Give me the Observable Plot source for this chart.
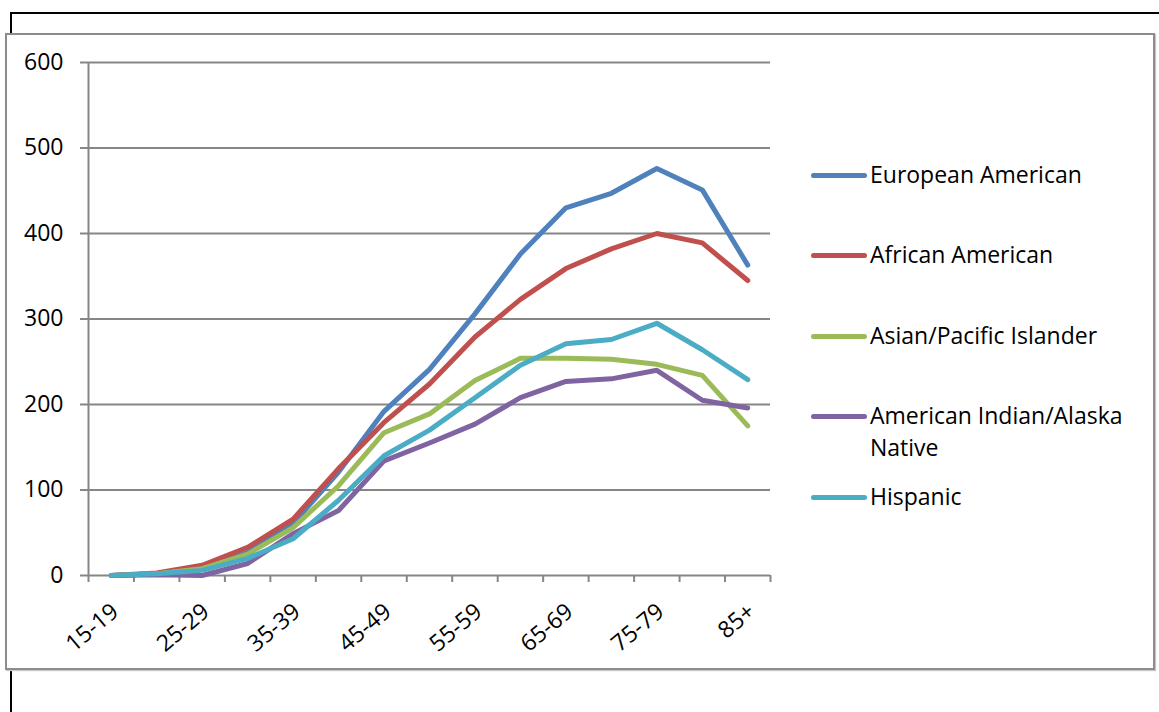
<!DOCTYPE html>
<html>
<head>
<meta charset="utf-8">
<script src="https://cdn.jsdelivr.net/npm/d3@7"></script>
<script src="https://cdn.jsdelivr.net/npm/@observablehq/plot@0.6"></script>
<style>
  html, body { margin: 0; padding: 0; background: #fff; }
  #page { position: relative; width: 1159px; height: 712px; overflow: hidden; font-family: "Open Sans", sans-serif; }
  #frame { position: absolute; left: 10px; top: 12px; width: 1300px; height: 900px; border-top: 2px solid #000; border-left: 2px solid #000; }
  #box { position: absolute; left: 5px; top: 33px; width: 1146px; height: 633px; background: #fff; border: 2px solid #8c8c8c; box-shadow: 1px 1px 1px #c8c8c8; }
  #chart { position: absolute; left: 0; top: 0; }
  .leg { position: absolute; left: 811px; font-size: 23px; color: #000; }
  .leg .sw { position: absolute; left: 0; width: 56px; height: 5px; border-radius: 3px; }
  .leg .tx { position: absolute; left: 59px; line-height: 32px; white-space: nowrap; }
</style>
</head>
<body>
<div id="page">
  <div id="frame"></div>
  <div id="box"></div>
  <div id="chart"></div>
</div>
<script>
const categories = ["15-19","20-24","25-29","30-34","35-39","40-44","45-49","50-54","55-59","60-64","65-69","70-74","75-79","80-84","85+"];
const seriesNames = ["European American","African American","Asian/Pacific Islander","American Indian/Alaska Native","Hispanic"];
const seriesColors = ["#4F81BD","#C0504D","#9BBB59","#8064A2","#4BACC6"];
const europeanAmerican = [0, 2, 8, 27, 61, 121, 192, 241, 306, 376, 430, 447, 476, 451, 363];
const africanAmerican  = [0, 3, 12, 33, 66, 125, 179, 224, 279, 323, 359, 382, 400, 389, 345];
const asianPacific     = [0, 2, 8, 25, 56, 105, 167, 189, 228, 254, 254, 253, 247, 234, 175];
const americanIndian   = [0, 1, 0, 14, 49, 76, 134, 155, 177, 208, 227, 230, 240, 205, 196];
const hispanic         = [0, 2, 6, 20, 43, 88, 140, 170, 208, 246, 271, 276, 295, 264, 229];
const yTicks = [0, 100, 200, 300, 400, 500, 600];
const xLabelCategories = ["15-19","25-29","35-39","45-49","55-59","65-69","75-79","85+"];

const seriesValues = [europeanAmerican, africanAmerican, asianPacific, americanIndian, hispanic];
const data = seriesNames.flatMap((s, k) => seriesValues[k].map((v, i) => ({series: s, i, value: v})));
const boundaries = d3.range(categories.length + 1).map(i => i - 0.5);
const labelIdx = xLabelCategories.map(c => categories.indexOf(c));
const grid = "#868686";

const chart = Plot.plot({
  width: 1159, height: 712,
  marginLeft: 88, marginRight: 389, marginTop: 62, marginBottom: 137,
  x: {domain: [-0.5, categories.length - 0.5], axis: null},
  y: {domain: [0, 600], axis: null},
  color: {domain: seriesNames, range: seriesColors},
  style: {fontFamily: "'Open Sans', sans-serif", fontSize: "23px", background: "transparent", color: "#000", overflow: "visible"},
  marks: [
    Plot.ruleY(yTicks, {stroke: grid, strokeWidth: 2}),
    Plot.axisY({ticks: yTicks, tickSize: 8, tickPadding: 17, stroke: grid, strokeWidth: 2, fill: "#000", fontSize: 23, label: null}),
    Plot.ruleX([boundaries[0]], {stroke: grid, strokeWidth: 2}),
    Plot.axisX({ticks: boundaries, tickSize: 7, tickFormat: () => "", stroke: grid, strokeWidth: 2, label: null}),
    Plot.axisX({ticks: labelIdx, tickSize: 0, tickPadding: 33, tickRotate: -40, dx: 4, tickFormat: i => categories[i], fill: "#000", fontSize: 23, label: null}),
    Plot.line(data, {x: "i", y: "value", stroke: "series", z: "series", strokeWidth: 5, strokeLinecap: "round", strokeLinejoin: "round"})
  ]
});
document.getElementById("chart").appendChild(chart);

// legend
const legendY = [175, 255, 336, 416, 497];
const page = document.getElementById("page");
seriesNames.forEach((name, k) => {
  const item = document.createElement("div");
  item.className = "leg";
  item.style.top = legendY[k] + "px";
  const sw = document.createElement("div");
  sw.className = "sw";
  sw.style.top = "-2.5px";
  sw.style.background = seriesColors[k];
  const tx = document.createElement("div");
  tx.className = "tx";
  tx.style.top = "-17px";
  tx.innerHTML = name === "American Indian/Alaska Native" ? "American Indian/Alaska<br>Native" : name;
  item.appendChild(sw);
  item.appendChild(tx);
  page.appendChild(item);
});
</script>
</body>
</html>
